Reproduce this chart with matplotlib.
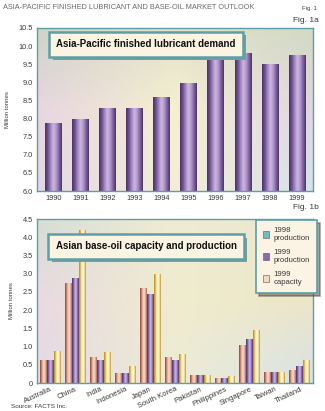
import numpy as np
import matplotlib.pyplot as plt
from matplotlib.colors import LinearSegmentedColormap
from matplotlib.patches import Patch
from matplotlib import patheffects

# Fig. 1a - finished lubricant demand, million tonnes
years = ['1990', '1991', '1992', '1993', '1994', '1995', '1996', '1997', '1998', '1999']
demand = [7.87, 7.98, 8.27, 8.27, 8.58, 8.96, 9.61, 9.78, 9.48, 9.74]

# Fig. 1b - base-oil capacity and production, million tonnes
countries = ['Australia', 'China', 'India', 'Indonesia', 'Japan', 'South Korea',
             'Pakistan', 'Philippines', 'Singapore', 'Taiwan', 'Thailand']
prod_1998 = [0.62, 2.72, 0.70, 0.25, 2.60, 0.70, 0.20, 0.13, 1.04, 0.28, 0.35]
prod_1999 = [0.62, 2.86, 0.63, 0.25, 2.44, 0.63, 0.20, 0.13, 1.19, 0.28, 0.44]
cap_1999 = [0.87, 4.19, 0.85, 0.44, 2.99, 0.78, 0.20, 0.17, 1.45, 0.28, 0.63]

series_labels = ['1998\nproduction', '1999\nproduction', '1999\ncapacity']
legend_colors = ['#74b8c2', '#8a6aaa', '#f6d8bc']

purple = ['#4a3266', '#6e5290', '#a488c4', '#cdb8e0', '#b296cc', '#7e62a0', '#4c3468']
salmon = ['#8a4638', '#c07e68', '#eec0a8', '#f8dac8', '#e4ae98', '#a8624e']
cream = ['#b08c1c', '#dcbc58', '#fcecc0', '#fff8e4', '#f2dc98', '#bc9626']

teal = '#5f9ea6'
grey = '#3a3a3a'


def background(ax, corners):
    # soft pastel wash behind the bars
    grid = np.array(corners, dtype=float) / 255
    ny, nx = 60, 80
    yy = np.linspace(0, 2, ny)
    xx = np.linspace(0, 2, nx)
    img = np.zeros((ny, nx, 3))
    for c in range(3):
        rows = np.array([np.interp(xx, [0, 1, 2], grid[r, :, c]) for r in range(3)])
        for j in range(nx):
            img[:, j, c] = np.interp(yy, [0, 1, 2], rows[:, j])
    ax.imshow(img, extent=[0, 1, 0, 1], transform=ax.transAxes,
              aspect='auto', zorder=0, interpolation='bilinear')


def cylinders(ax, bars, colors, ymin):
    # shade each bar like a rod; start the shading at the axis floor
    cmap = LinearSegmentedColormap.from_list('cyl', colors)
    grad = np.linspace(0, 1, 64).reshape(1, -1)
    for b in bars:
        b.set_facecolor('none')
        b.set_edgecolor('none')
        ax.imshow(grad, cmap=cmap, aspect='auto', zorder=2,
                  extent=[b.get_x(), b.get_x() + b.get_width(),
                          max(b.get_y(), ymin), b.get_y() + b.get_height()])


def title_box(ax, x, y, s):
    t = ax.text(x, y, s, transform=ax.transAxes, ha='center', va='center', fontsize=7,
                fontweight='bold', color='#111111', zorder=6,
                bbox=dict(boxstyle='square,pad=0.75', fc='#fbf4e2', ec=teal, lw=1.8))
    t.get_bbox_patch().set_path_effects([
        patheffects.SimplePatchShadow(offset=(2.5, -2.5), shadow_rgbFace='#7a9ea0', alpha=1),
        patheffects.Normal()])


def style_axes(ax):
    for sp in ax.spines.values():
        sp.set_color(teal)
        sp.set_linewidth(1.0)
    ax.tick_params(length=0, labelsize=5.3, colors=grey, pad=3)
    ax.set_ylabel('Million tonnes', fontsize=4.3, color=grey, labelpad=6)


plt.rcParams['font.family'] = ['Liberation Sans', 'DejaVu Sans']
fig = plt.figure(figsize=(3.25, 4.11), dpi=100)

head = fig.text(0.008, 0.982, 'ASIA-PACIFIC FINISHED LUBRICANT AND BASE-OIL MARKET OUTLOOK',
                fontsize=7, color='#6a6a6a',
                family=['Liberation Sans Narrow', 'DejaVu Sans Condensed', 'Liberation Sans'],
                va='center', ha='left')
# squeeze the heading to the width it has in the original
r = fig.canvas.get_renderer()
wpx = head.get_window_extent(r).width
head.set_fontsize(7 * min(1.0, 250 / wpx))

fig.text(0.975, 0.98, 'Fig. 1', fontsize=4.2, color=grey, ha='right', va='center')
fig.text(0.98, 0.951, 'Fig. 1a', fontsize=6, color=grey, ha='right', va='center')
fig.text(0.98, 0.494, 'Fig. 1b', fontsize=6, color=grey, ha='right', va='center')
fig.text(0.035, 0.012, 'Source: FACTS Inc.', fontsize=4.6, color=grey, ha='left', va='center')

# ---- Fig. 1a
ax1 = fig.add_axes([0.114, 0.535, 0.849, 0.397])
background(ax1, [[(206, 212, 200), (226, 226, 204), (210, 218, 196)],
                 [(232, 214, 224), (246, 240, 208), (224, 214, 226)],
                 [(226, 216, 230), (244, 238, 214), (214, 226, 234)]])
x1 = np.arange(len(years))
bars1 = ax1.bar(x1, demand, width=0.6, zorder=2)
cylinders(ax1, bars1, purple, 6.0)
ax1.set_xticks(x1, years)
yt = np.arange(6.0, 10.51, 0.5)
ax1.set_yticks(yt, ['%.1f' % v for v in yt])
ax1.set_xlim(-0.6, len(years) - 0.4)
ax1.set_ylim(6.0, 10.5)
style_axes(ax1)
title_box(ax1, 0.395, 0.90, 'Asia-Pacific finished lubricant demand')

# ---- Fig. 1b
ax2 = fig.add_axes([0.114, 0.068, 0.849, 0.399])
background(ax2, [[(214, 222, 214), (240, 236, 212), (232, 230, 206)],
                 [(234, 218, 226), (240, 236, 206), (236, 230, 200)],
                 [(228, 218, 228), (236, 236, 214), (216, 226, 232)]])
x2 = np.arange(len(countries))
w = 0.28
for k, (vals, cols) in enumerate([(prod_1998, salmon), (prod_1999, purple), (cap_1999, cream)]):
    bars = ax2.bar(x2 + (k - 1) * w, vals, width=w, zorder=2)
    cylinders(ax2, bars, cols, 0.0)
ax2.set_xticks(x2, countries, rotation=25, ha='right', rotation_mode='anchor')
yt2 = np.arange(0, 4.51, 0.5)
ax2.set_yticks(yt2, ['0'] + ['%.1f' % v for v in yt2[1:]])
ax2.set_xlim(-0.52, len(countries) - 0.48)
ax2.set_ylim(0, 4.5)
style_axes(ax2)
ax2.tick_params(axis='x', labelsize=5.5, pad=2)
title_box(ax2, 0.395, 0.833, 'Asian base-oil capacity and production')

handles = [Patch(fc=c, ec='#555555', lw=0.4) for c in legend_colors]
leg = fig.legend(handles, series_labels, loc='upper left', bbox_to_anchor=(0.775, 0.474),
                 fontsize=5.6, frameon=True, fancybox=False, shadow=True,
                 handlelength=0.8, handleheight=0.9, handletextpad=0.6,
                 labelspacing=0.9, borderpad=0.9, labelcolor=grey)
leg.get_frame().set_facecolor('#fbf4e4')
leg.get_frame().set_edgecolor(teal)
leg.get_frame().set_linewidth(1.2)
leg.set_zorder(10)

fig.savefig('out.png', dpi=100)
